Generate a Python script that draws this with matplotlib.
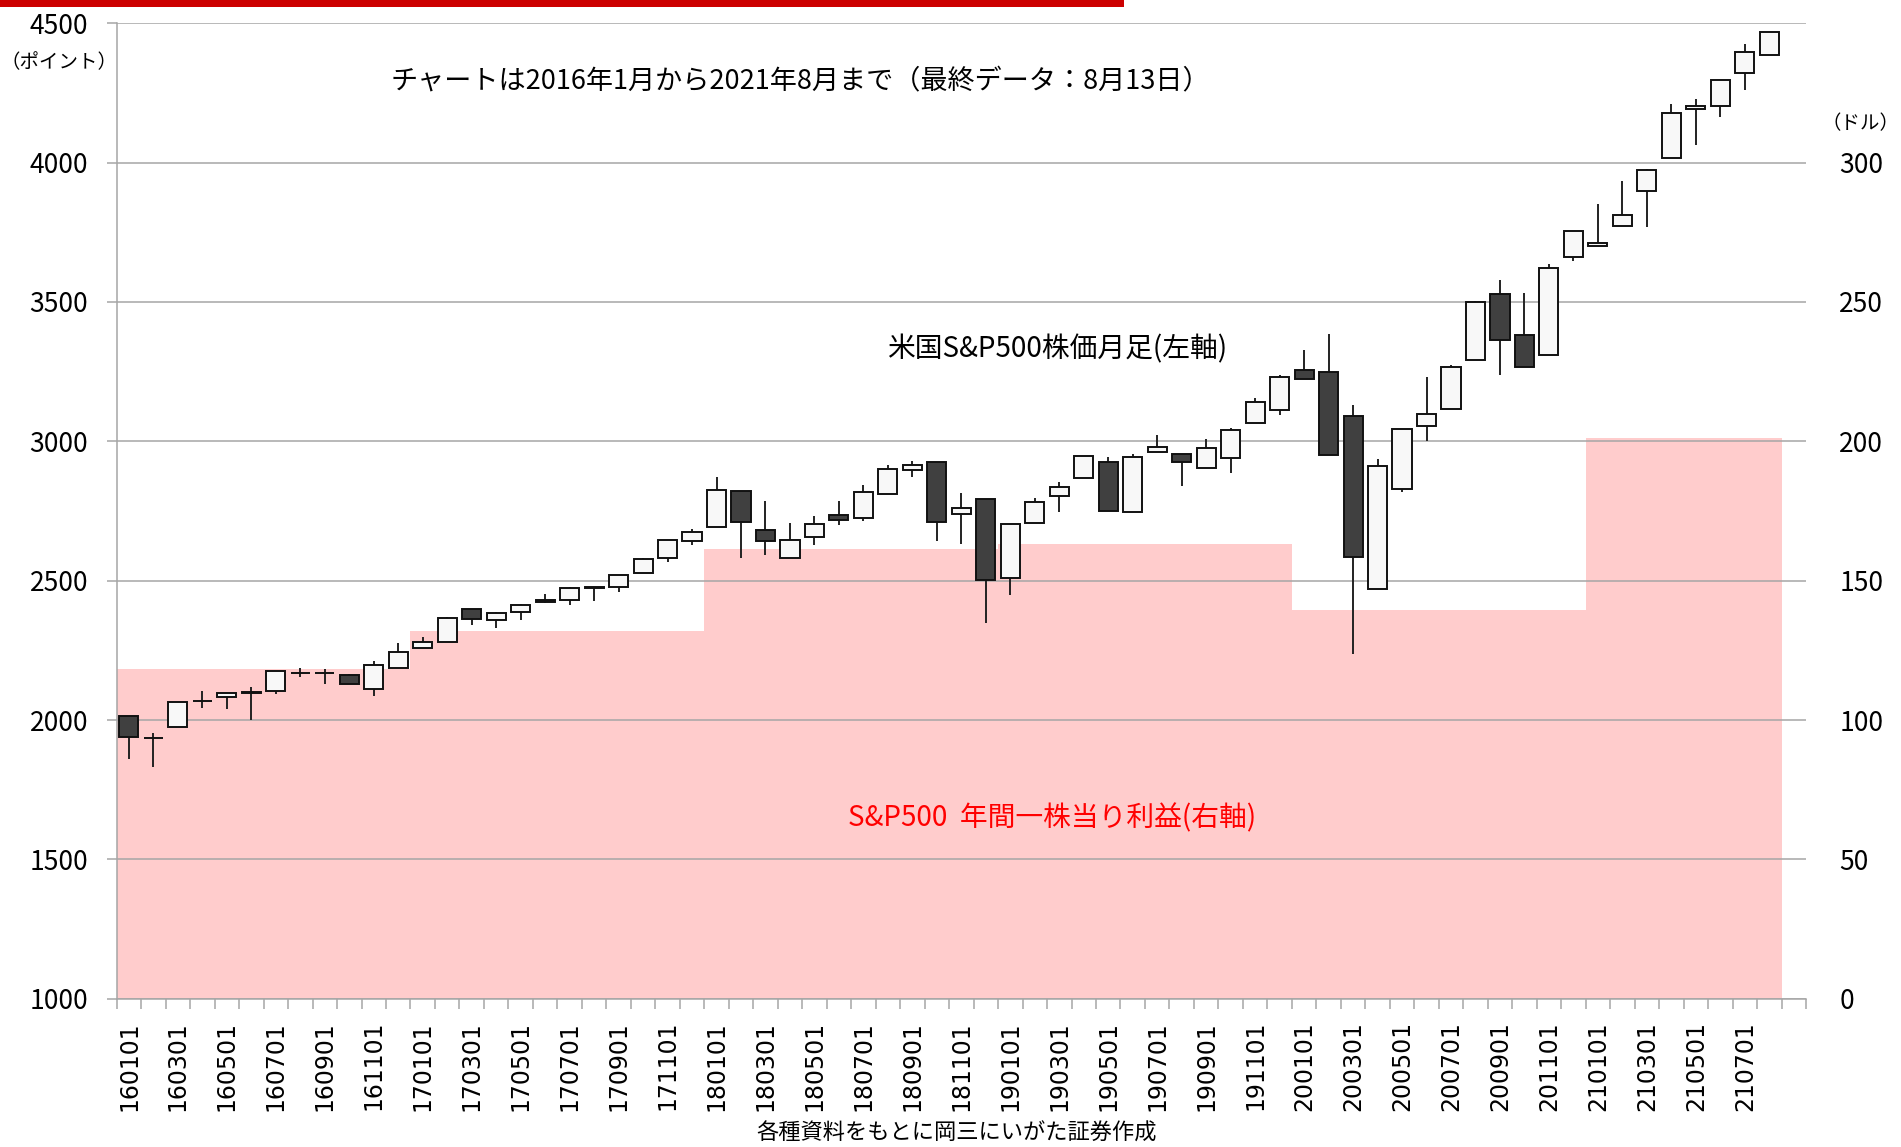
import numpy as np
import matplotlib
matplotlib.use("Agg")
import matplotlib.pyplot as plt
from matplotlib.patches import Rectangle

# ---------------- data ----------------
# monthly candles, 2016-01 .. 2021-08
opens = [2014, 1936, 1976, 2068, 2081, 2097, 2104, 2167, 2167, 2161, 2112, 2188,
         2258, 2279, 2397, 2358, 2387, 2429, 2430, 2477, 2477, 2529, 2580, 2642,
         2693, 2822, 2681, 2580, 2656, 2737, 2726, 2812, 2896, 2925, 2740, 2793,
         2510, 2708, 2803, 2868, 2925, 2745, 2963, 2953, 2905, 2939, 3066, 3114,
         3257, 3249, 3090, 2471, 2830, 3056, 3116, 3292, 3528, 3383, 3311, 3660,
         3702, 3773, 3899, 4018, 4193, 4202, 4321, 4386]
highs = [2014, 1952, 2063, 2104, 2097, 2117, 2176, 2188, 2182, 2165, 2212, 2275,
         2299, 2370, 2397, 2388, 2416, 2452, 2477, 2479, 2519, 2580, 2647, 2687,
         2871, 2822, 2787, 2707, 2731, 2787, 2845, 2915, 2929, 2925, 2816, 2793,
         2703, 2796, 2854, 2948, 2943, 2953, 3023, 2953, 3008, 3047, 3154, 3239,
         3329, 3386, 3130, 2938, 3043, 3231, 3275, 3503, 3579, 3532, 3636, 3755,
         3853, 3934, 3976, 4210, 4229, 4297, 4425, 4468]
lows = [1860, 1830, 1976, 2044, 2038, 2000, 2092, 2156, 2128, 2128, 2085, 2188,
        2258, 2279, 2341, 2331, 2359, 2421, 2412, 2426, 2458, 2529, 2567, 2628,
        2693, 2580, 2591, 2580, 2628, 2699, 2713, 2812, 2873, 2642, 2632, 2349,
        2450, 2708, 2746, 2868, 2751, 2745, 2963, 2841, 2905, 2887, 3066, 3096,
        3224, 2952, 2236, 2471, 2819, 3000, 3116, 3292, 3237, 3268, 3311, 3647,
        3702, 3773, 3769, 4018, 4062, 4165, 4260, 4386]
closes = [1938, 1937, 2063, 2070, 2096, 2099, 2175, 2169, 2168, 2128, 2198, 2243,
          2280, 2365, 2362, 2383, 2412, 2425, 2472, 2475, 2519, 2577, 2647, 2676,
          2826, 2712, 2641, 2647, 2703, 2718, 2817, 2902, 2916, 2712, 2760, 2504,
          2703, 2784, 2835, 2948, 2751, 2943, 2981, 2925, 2977, 3039, 3142, 3232,
          3224, 2952, 2585, 2911, 3043, 3099, 3267, 3501, 3363, 3268, 3623, 3755,
          3713, 3811, 3972, 4179, 4203, 4297, 4396, 4468]

# annual EPS (right axis, dollars) and number of months shown per year
eps_years = [2016, 2017, 2018, 2019, 2020, 2021]
eps_values = [118.3, 132.0, 161.5, 163.0, 139.4, 201.2]
months_in_year = [12, 12, 12, 12, 12, 8]

tick_labels = ["160101", "160301", "160501", "160701", "160901", "161101",
               "170101", "170301", "170501", "170701", "170901", "171101",
               "180101", "180301", "180501", "180701", "180901", "181101",
               "190101", "190301", "190501", "190701", "190901", "191101",
               "200101", "200301", "200501", "200701", "200901", "201101",
               "210101", "210301", "210501", "210701"]

left_ticks = [1000, 1500, 2000, 2500, 3000, 3500, 4000, 4500]
right_ticks = [0, 50, 100, 150, 200, 250, 300]

# ---------------- figure ----------------
plt.rcParams['font.family'] = ['Noto Sans CJK JP', 'DejaVu Sans']
W, H = 1901, 1147
fig = plt.figure(figsize=(W / 100, H / 100), dpi=100)

ax_l, ax_r, ax_t, ax_b = 116.7, 1806, 23.3, 998.7
ax = fig.add_axes([ax_l / W, 1 - ax_b / H, (ax_r - ax_l) / W, (ax_b - ax_t) / H])
ax2 = ax.twinx()
ax.set_zorder(2)
ax.patch.set_visible(False)
ax2.set_zorder(1)

n_slots = 69
x = np.arange(len(opens))
o = np.array(opens, float)
c = np.array(closes, float)
hi = np.array(highs, float)
lo = np.array(lows, float)

# EPS step area
edges = np.concatenate([[0], np.cumsum(months_in_year)]) - 0.5
ax2.stairs(eps_values, edges, fill=True, baseline=0, color='#FFCCCC', linewidth=0)
ax2.set_ylim(0, 350)

# candles
up = c >= o
body_bottom = np.minimum(o, c)
body_h = np.abs(c - o)
ax.vlines(x, lo, hi, color='#222222', linewidth=1.4, zorder=2)
ax.bar(x, body_h, bottom=body_bottom, width=0.78,
       color=np.where(up, '#F8F8F8', '#404040'),
       edgecolor='#111111', linewidth=1.4, zorder=3)

ax.set_xlim(-0.5, n_slots - 0.5)
ax.set_ylim(1000, 4500)

# grid and spines
grid_c = '#A6A6A6'
ax.set_axisbelow(True)
ax.yaxis.grid(True, color=grid_c, linewidth=1.1)
ax.xaxis.grid(False)
for s in ['top', 'right']:
    ax.spines[s].set_visible(False)
for s in ['left', 'bottom']:
    ax.spines[s].set_color(grid_c)
    ax.spines[s].set_linewidth(1.1)
for s in ax2.spines.values():
    s.set_visible(False)

# y axes
ax.set_yticks(left_ticks)
ax.set_yticklabels([str(v) for v in left_ticks])
ax.tick_params(axis='y', length=7.5, width=1.1, color=grid_c, pad=13, labelsize=19)
ax2.set_yticks(right_ticks)
ax2.set_yticklabels([str(v) for v in right_ticks])
ax2.tick_params(axis='y', length=0, pad=24, labelsize=19)

# x axis
ax.set_xticks(np.arange(0, len(tick_labels) * 2, 2))
ax.set_xticklabels(tick_labels, rotation=90, family='DejaVu Sans', fontsize=17)
ax.set_xticks(np.arange(-0.5, n_slots, 1), minor=True)
ax.tick_params(axis='x', which='major', length=0, pad=16)
ax.tick_params(axis='x', which='minor', length=7.5, width=1.1, color=grid_c)

# texts
def ftext(px, py, s, ha='center', **kw):
    fig.text(px / W, 1 - py / H, s, ha=ha, va='center', **kw)

ftext(800, 82, "チャートは2016年1月から2021年8月まで（最終データ：8月13日）", fontsize=19.5)
ftext(1057, 349, "米国S&P500株価月足(左軸)", fontsize=20)
ftext(1052, 818, "S&P500  年間一株当り利益(右軸)", fontsize=20, color='#FF0000')
ftext(957, 1133, "各種資料をもとに岡三にいがた証券作成", fontsize=16)
ftext(1, 63, "（ポイント）", ha='left', fontsize=14)
ftext(1899, 124, "（ドル）", ha='right', fontsize=14)

# red band at top
fig.add_artist(Rectangle((0, 1 - 7 / H), 1124 / W, 7 / H, transform=fig.transFigure,
                         color='#CC0000', linewidth=0))

fig.savefig("out.png", dpi=100)
